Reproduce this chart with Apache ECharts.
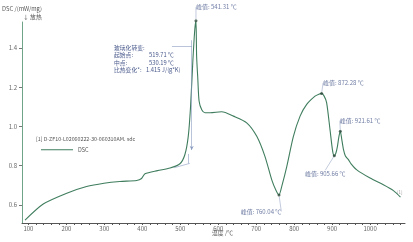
<!DOCTYPE html>
<html><head><meta charset="utf-8">
<script src="https://cdn.jsdelivr.net/npm/echarts@6/dist/echarts.min.js"></script>
<style>html,body{margin:0;padding:0;background:#fff}#c{width:413px;height:242px}</style>
</head><body><div id="c"></div>
<script>
// ---- data ----
const temps = [91, 139, 201, 253, 299, 341, 385, 398, 407, 440, 473, 499, 512, 521, 527, 533, 538, 541.3, 543, 546, 549.5, 556.5, 565, 578.5, 609, 640, 675, 701.5, 723, 741, 752, 760, 768, 780.5, 798, 815.6, 833, 855, 865, 872.3, 879, 885.5, 894.4, 901.5, 905.7, 910, 914, 918, 921.6, 925, 930, 935, 943, 950, 965, 1000, 1035, 1061.5, 1080];
const dsc   = [0.523, 0.605, 0.66, 0.694, 0.711, 0.72, 0.725, 0.735, 0.759, 0.775, 0.788, 0.81, 0.856, 0.95, 1.1, 1.33, 1.49, 1.54, 1.36, 1.25, 1.13, 1.085, 1.07, 1.07, 1.075, 1.053, 1.019, 0.95, 0.848, 0.728, 0.675, 0.651, 0.70, 0.796, 0.95, 1.053, 1.113, 1.155, 1.165, 1.169, 1.155, 1.122, 0.985, 0.873, 0.851, 0.865, 0.899, 0.95, 0.976, 0.94, 0.882, 0.85, 0.831, 0.81, 0.779, 0.737, 0.703, 0.673, 0.64];
const peakT = [541.31, 760.04, 872.28, 905.66, 921.61];
const peakV = [1.54, 0.651, 1.169, 0.851, 0.976];
const xTickLabels = [100, 200, 300, 400, 500, 600, 700, 800, 900, 1000];
const yTickLabels = [0.6, 0.8, 1.0, 1.2, 1.4];
const glassText = ['玻璃化转变:', '起始点:', '中点:', '比热变化*:'];
const glassVals = ['', '519.71 ℃', '530.19 ℃', '1.415 J/(g*K)'];
const fileLabel = '[1] D-ZF10-L02060222-30-060310AM. sdc';

const FONT = '"Noto Sans CJK SC", "Noto Sans", sans-serif';
const curveColor = '#3f7d5e';
const labelColor = '#4a5a8c';
const annColor = '#8a9bc0';

const minorX = [];
for (let t = 100; t <= 1080; t += 20) minorX.push(t);

// label placement per peak (style only)
const labelPlace = [
  {position: [1.5, -12], align: 'left'},
  {position: 'bottom', dx: -18, dy: 10},
  {position: [3, -9], align: 'left'},
  {position: 'bottom', dx: -9, dy: 11},
  {position: [1, -9], align: 'left'}
];

const peakData = peakT.map((t, i) => {
  const p = labelPlace[i];
  return {
    value: [t, peakV[i]],
    label: {show: true, formatter: '峰值: ' + t.toFixed(2) + ' ℃', position: p.position,
      align: p.align || 'center', verticalAlign: 'middle'}
  };
});

const glassGraphic = [];
glassText.forEach((s, i) => {
  glassGraphic.push({type: 'text', left: 114, top: 45 + i * 7.2, style: {text: s, font: '5.8px ' + FONT, fill: labelColor}});
  glassGraphic.push({type: 'text', left: i === 3 ? 146 : 149, top: 45 + i * 7.2, style: {text: glassVals[i], font: '5.8px ' + FONT, fill: labelColor}});
});

const chart = echarts.init(document.getElementById('c'), null, {renderer: 'canvas'});
chart.setOption({
  animation: false,
  grid: {left: 22, right: 8, top: 22, bottom: 19, containLabel: false},
  textStyle: {fontFamily: FONT},
  xAxis: {
    type: 'value', min: 83, max: 1092,
    axisLine: {lineStyle: {color: '#555', width: 1}},
    axisTick: {show: true, customValues: minorX, length: 2, inside: false, lineStyle: {color: '#555', width: 1}},
    axisLabel: {customValues: xTickLabels, formatter: v => String(v), fontSize: 6, color: '#666', margin: 3, fontFamily: FONT},
    splitLine: {show: false}
  },
  yAxis: {
    type: 'value', min: 0.508, max: 1.533,
    axisLine: {show: true, lineStyle: {color: '#6fa488', width: 1}},
    axisTick: {show: true, customValues: yTickLabels, length: 3, lineStyle: {color: '#777'}},
    axisLabel: {customValues: yTickLabels, formatter: v => v.toFixed(1), fontSize: 6, color: '#666', margin: 5, fontFamily: FONT},
    splitLine: {show: false}
  },
  legend: {
    left: 36, top: 142, itemWidth: 32, itemHeight: 1, icon: 'rect', itemGap: 4,
    data: ['DSC'], textStyle: {fontSize: 5.5, color: '#555', fontFamily: FONT}
  },
  series: [
    {
      name: 'DSC', type: 'line', data: temps.map((t, i) => [t, dsc[i]]),
      showSymbol: false, smooth: 0.25,
      lineStyle: {color: curveColor, width: 1.1}, itemStyle: {color: curveColor},
      markLine: {
        silent: true, symbol: ['none', 'none'], animation: false,
        label: {show: false},
        lineStyle: {color: annColor, width: 0.6, type: 'solid'},
        data: [
          [{coord: [478, 1.41]}, {coord: [531, 1.41]}],
          [{coord: [530, 1.44]}, {coord: [530, 0.88], symbol: 'arrow', symbolSize: [3, 4]}],
          [{coord: [484, 0.79]}, {coord: [525, 0.812]}],
          [{coord: [522, 0.812]}, {coord: [522, 0.86]}]
        ]
      }
    },
    {
      name: 'peaks', type: 'scatter', data: peakData, symbolSize: 3,
      itemStyle: {color: '#2f4a3c'},
      label: {fontSize: 6, color: labelColor, fontFamily: FONT},
      labelLayout: params => {
        const p = labelPlace[params.dataIndex];
        return p.dx !== undefined ? {dx: p.dx, dy: p.dy} : {};
      },
      labelLine: {show: true, lineStyle: {color: '#9aa8c8', width: 0.6}},
      clip: false,
      z: 5
    }
  ],
  graphic: [
    {type: 'text', left: 2, top: 6, style: {text: 'DSC /(mW/mg)', font: '5.8px ' + FONT, fill: '#555'}},
    {type: 'text', left: 23, top: 14, style: {text: '↓ 放热', font: '5.8px ' + FONT, fill: '#555'}},
    {type: 'text', left: 36, top: 136, style: {text: fileLabel, font: '5.3px ' + FONT, fill: '#555'}},
    {type: 'text', left: 212, top: 230, style: {text: '温度 /℃', font: '5.8px ' + FONT, fill: '#555'}},
    {type: 'text', left: 397, top: 190, style: {text: '[1]', font: '4.5px ' + FONT, fill: '#999'}}
  ].concat(glassGraphic)
});
</script></body></html>
